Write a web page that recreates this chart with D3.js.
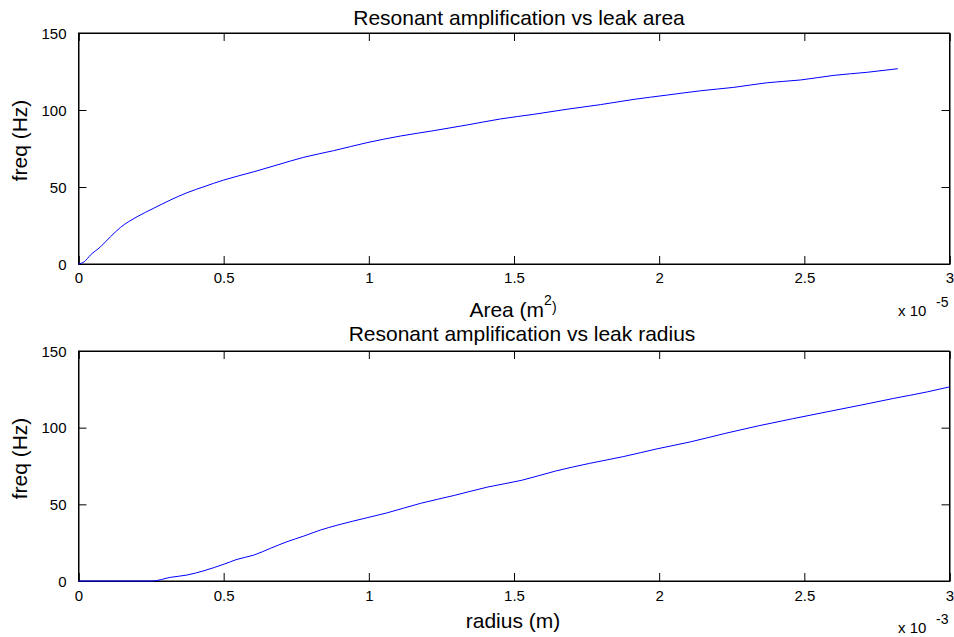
<!DOCTYPE html>
<html>
<head>
<meta charset="utf-8">
<script src="https://cdn.jsdelivr.net/npm/d3@7"></script>
<style>
  html, body { margin: 0; padding: 0; background: #fff; }
  svg { display: block; font-family: "Liberation Sans", Arial, sans-serif; }
</style>
</head>
<body>
<svg id="chart" width="954" height="637"></svg>
<script>
// ---- data ----
const areaX = [0, 0.02, 0.041, 0.076, 0.110, 0.145, 0.202, 0.259, 0.317, 0.374, 0.432, 0.5, 0.604, 0.684, 0.776, 0.879, 0.994, 1.109, 1.224, 1.339, 1.454, 1.568, 1.683, 1.798, 1.913, 2.028, 2.143, 2.257, 2.372, 2.487, 2.602, 2.717, 2.822]; // x 1e-5 m^2
const areaFreq = [0, 1.5, 5.8, 11.2, 17.7, 23.8, 30.7, 36.2, 41.6, 46.3, 50.2, 54.5, 59.9, 64.3, 69.3, 73.6, 78.8, 83.1, 86.6, 90.3, 94.2, 97.2, 100.5, 103.5, 106.9, 109.7, 112.5, 114.7, 117.7, 119.5, 122.5, 124.5, 126.8];

const radiusX = [0, 0.254, 0.317, 0.374, 0.432, 0.503, 0.546, 0.604, 0.661, 0.718, 0.776, 0.833, 0.891, 0.997, 1.062, 1.177, 1.294, 1.41, 1.527, 1.643, 1.76, 1.876, 1.993, 2.109, 2.226, 2.342, 2.459, 2.575, 2.692, 2.808, 2.925, 3.0]; // x 1e-3 m
const radiusFreq = [0, 0, 2.4, 3.9, 6.7, 11.1, 14.1, 16.9, 21.3, 25.6, 29.3, 33.2, 36.4, 41.4, 44.4, 50.6, 55.8, 61.3, 65.7, 71.7, 76.7, 81.1, 86.2, 90.8, 96.2, 101.2, 105.8, 110.2, 114.6, 119.1, 123.4, 126.6];

const xTicks = [0, 0.5, 1, 1.5, 2, 2.5, 3];
const xTickLabels = ["0", "0.5", "1", "1.5", "2", "2.5", "3"];
const yTicks = [0, 50, 100, 150];
const yTickLabels = ["0", "50", "100", "150"];

const panels = [
  { title: "Resonant amplification vs leak area", xlabel: "Area (m", sup: true, exp: "-5",
    xs: areaX, ys: areaFreq, top: 33, bottom: 264,
    titleY: 25, titleX: 519, tickY: 283, xlabelY: 317, expY: 316, ylabelY: 140.5 },
  { title: "Resonant amplification vs leak radius", xlabel: "radius (m)", sup: false, exp: "-3",
    xs: radiusX, ys: radiusFreq, top: 351, bottom: 581,
    titleY: 341, titleX: 522, tickY: 600.5, xlabelY: 628, expY: 632.5, ylabelY: 458.5 }
];

const svg = d3.select("#chart");
const left = 78.5, right = 949.5;
const tickLen = 8;

panels.forEach(p => {
  const x = d3.scaleLinear().domain([0, 3]).range([left, right]);
  const y = d3.scaleLinear().domain([0, 150]).range([p.bottom, p.top]);
  const g = svg.append("g");

  // box
  g.append("rect")
    .attr("x", left).attr("y", p.top)
    .attr("width", right - left).attr("height", p.bottom - p.top)
    .attr("fill", "none").attr("stroke", "#000").attr("stroke-width", 1);

  // axes (ticks inward, on all sides)
  const axB = d3.axisBottom(x).tickValues(xTicks).tickSize(-tickLen).tickFormat((d, i) => xTickLabels[i]);
  const axT = d3.axisTop(x).tickValues(xTicks).tickSize(-tickLen).tickFormat("");
  const axL = d3.axisLeft(y).tickValues(yTicks).tickSize(-tickLen).tickFormat((d, i) => yTickLabels[i]);
  const axR = d3.axisRight(y).tickValues(yTicks).tickSize(-tickLen).tickFormat("");

  const gb = g.append("g").attr("transform", `translate(0,${p.bottom})`).call(axB);
  const gt = g.append("g").attr("transform", `translate(0,${p.top})`).call(axT);
  const gl = g.append("g").attr("transform", `translate(${left},0)`).call(axL);
  const gr = g.append("g").attr("transform", `translate(${right},0)`).call(axR);
  [gb, gt, gl, gr].forEach(a => {
    a.select(".domain").attr("stroke", "#000").attr("stroke-width", 1);
    a.selectAll(".tick line").attr("stroke", "#000").attr("stroke-width", 1);
    a.selectAll("text").attr("font-family", "Liberation Sans, Arial, sans-serif").attr("font-size", 15).attr("fill", "#000");
  });
  gb.selectAll(".tick text").attr("y", null).attr("dy", null)
    .attr("transform", null)
    .each(function () { d3.select(this).attr("y", p.tickY - p.bottom); });
  gl.selectAll(".tick text").attr("x", -12).attr("dy", "0.35em");

  // line
  const line = d3.line().x((d, i) => x(p.xs[i])).y((d, i) => y(p.ys[i])).curve(d3.curveMonotoneX);
  g.append("path").datum(p.ys).attr("d", line)
    .attr("fill", "none").attr("stroke", "#0000ff").attr("stroke-width", 1);

  // title
  g.append("text").attr("x", p.titleX).attr("y", p.titleY)
    .attr("text-anchor", "middle").attr("font-size", 21).text(p.title);

  // x label
  const xl = g.append("text").attr("x", 513).attr("y", p.xlabelY)
    .attr("text-anchor", "middle").attr("font-size", 21);
  xl.append("tspan").text(p.xlabel);
  if (p.sup) {
    xl.append("tspan").attr("font-size", 14).attr("dy", -12).text("2");
    xl.append("tspan").attr("font-size", 14).attr("dy", 7).text(")");
  }

  // exponent note
  g.append("text").attr("x", 898).attr("y", p.expY).attr("font-size", 15).text("x 10");
  g.append("text").attr("x", 936).attr("y", p.expY - 9).attr("font-size", 14).text(p.exp);

  // y label
  g.append("text").attr("transform", `translate(27,${p.ylabelY}) rotate(-90)`)
    .attr("text-anchor", "middle").attr("font-size", 21).text("freq (Hz)");
});
</script>
</body>
</html>
